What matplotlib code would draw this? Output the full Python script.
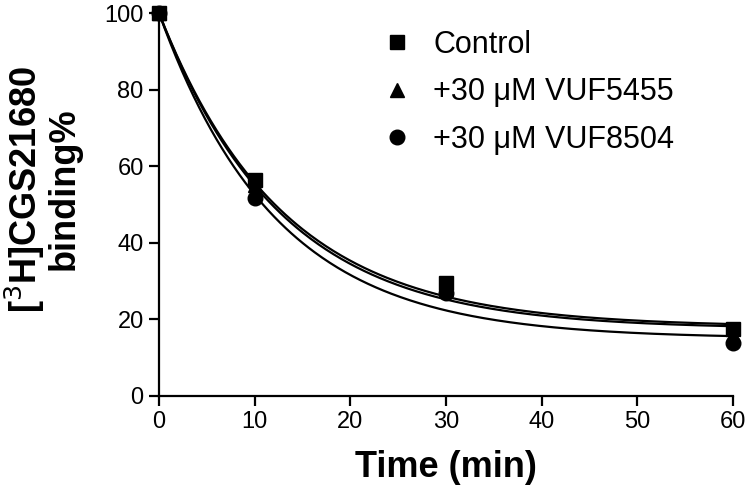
import numpy as np
import matplotlib
matplotlib.use("Agg")
import matplotlib.pyplot as plt

plt.rcParams["font.family"] = ["Liberation Sans", "DejaVu Sans"]

time_min = [0, 10, 30, 60]
control = [100, 56.5, 29.4, 17.4]
vuf5455 = [100, 55.0, 28.0, 16.0]
vuf8504 = [100, 51.8, 27.0, 13.8]

series_labels = ["Control", "+30 μM VUF5455", "+30 μM VUF8504"]
series_markers = ["s", "^", "o"]

# one-phase decay fits: plateau + (100 - plateau) * exp(-k t)
fit_plateau = [18.0, 17.5, 15.0]
fit_k = [0.0777, 0.0790, 0.0816]

fig = plt.figure(figsize=(7.5, 5), dpi=100)
ax = fig.add_axes([0.212, 0.208, 0.765, 0.766])

t = np.linspace(0, 60, 300)
for p, k in zip(fit_plateau, fit_k):
    ax.plot(t, p + (100 - p) * np.exp(-k * t), color="black", lw=1.6,
            solid_capstyle="round", zorder=2)

for vals, lab, m in zip([control, vuf5455, vuf8504], series_labels, series_markers):
    ax.plot(time_min, vals, linestyle="none", marker=m, markersize=10.5,
            color="black", label=lab, clip_on=False, zorder=3)

ax.set_xlim(0, 60)
ax.set_ylim(0, 100)
ax.set_xticks(range(0, 61, 10))
ax.set_yticks(range(0, 101, 20))
for s in ["top", "right"]:
    ax.spines[s].set_visible(False)
for s in ["left", "bottom"]:
    ax.spines[s].set_linewidth(1.6)
ax.tick_params(axis="both", direction="out", length=7, width=1.6,
               labelsize=17, pad=4)

ax.set_xlabel("Time (min)", fontsize=26, fontweight="bold", labelpad=12)
ax.set_ylabel("[$^{3}$H]CGS21680\nbinding%", fontsize=26,
              fontweight="bold", linespacing=1.0)
ax.yaxis.set_label_coords(-0.135, 0.54)

ax.legend(loc="upper left", bbox_to_anchor=(0.367, 0.988), frameon=False,
          fontsize=22, handlelength=1.0, handletextpad=0.68,
          labelspacing=0.57, borderaxespad=0, markerscale=1.0)

fig.savefig("out.png", dpi=100)
